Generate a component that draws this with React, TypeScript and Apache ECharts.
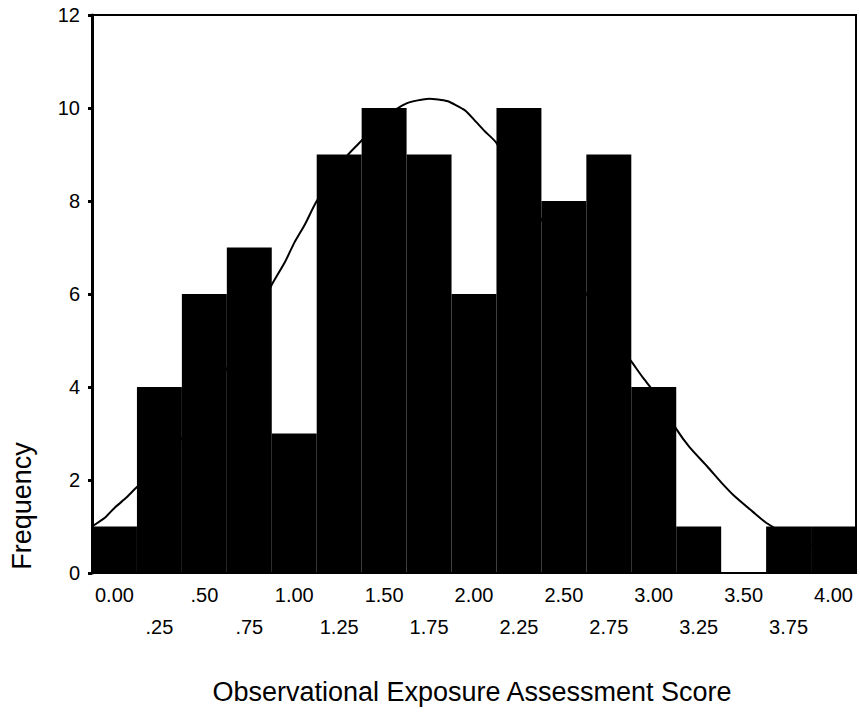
import React, { useEffect, useRef } from "react";
import * as echarts from "echarts";

const binLabels = [
  "0.00", ".25", ".50", ".75", "1.00", "1.25", "1.50", "1.75", "2.00",
  "2.25", "2.50", "2.75", "3.00", "3.25", "3.50", "3.75", "4.00",
];
const frequencies = [1, 4, 6, 7, 3, 9, 10, 9, 6, 10, 8, 9, 4, 1, 0, 1, 1];

// Fitted normal curve (score, frequency)
const curveX = [
  -0.125, -0.05, 0.0, 0.06, 0.125, 0.25, 0.375, 0.5, 0.625, 0.75, 0.875, 0.95,
  1.0, 1.06, 1.125, 1.25, 1.3, 1.375, 1.5, 1.625, 1.75, 1.85, 1.95, 2.0, 2.06,
  2.125, 2.25, 2.375, 2.5, 2.625, 2.75, 2.875, 2.94, 3.0, 3.125, 3.2, 3.3,
  3.375, 3.45, 3.55, 3.625, 3.75, 3.875, 4.0, 4.125,
];
const curveY = [
  1.0, 1.2, 1.4, 1.6, 1.85, 2.3, 2.9, 3.6, 4.4, 5.3, 6.2, 6.7,
  7.1, 7.5, 8.0, 8.7, 9.0, 9.3, 9.8, 10.1, 10.2, 10.15, 9.95, 9.75, 9.5,
  9.25, 8.4, 7.6, 6.8, 6.0, 5.2, 4.55, 4.2, 3.9, 3.1, 2.7, 2.28,
  1.95, 1.65, 1.32, 1.08, 0.8, 0.6, 0.45, 0.32,
];

const xTitle = "Observational Exposure Assessment Score";
const yTitle = "Frequency";
const FONT = "'Liberation Sans', Arial, Helvetica, sans-serif";

export default function App() {
  const ref = useRef<HTMLDivElement>(null);
  useEffect(() => {
    document.body.style.margin = "0";
    const chart = echarts.init(ref.current!, null, { renderer: "svg" });
    chart.setOption({
      animation: false,
      backgroundColor: "#ffffff",
      textStyle: { fontFamily: FONT, color: "#000" },
      grid: {
        left: 92,
        right: 4,
        top: 15,
        bottom: 142,
        show: true,
        borderColor: "#000",
        borderWidth: 2,
      },
      xAxis: [
        {
          type: "category",
          data: binLabels,
          boundaryGap: true,
          axisLine: { onZero: false, lineStyle: { color: "#000", width: 2 } },
          axisTick: {
            alignWithLabel: true,
            length: 4,
            lineStyle: { color: "#000", width: 3 },
          },
          axisLabel: {
            interval: 0,
            color: "#000",
            fontSize: 20,
            fontFamily: FONT,
            lineHeight: 32,
            margin: 6,
            formatter: (v: string, i: number) => (i % 2 ? "\n" + v : v),
          },
        },
        {
          type: "value",
          min: -0.125,
          max: 4.125,
          show: false,
        },
      ],
      yAxis: {
        type: "value",
        min: 0,
        max: 12,
        interval: 2,
        splitLine: { show: false },
        axisLine: { show: true, onZero: false, lineStyle: { color: "#000", width: 3 } },
        axisTick: { show: true, length: 4, lineStyle: { color: "#000", width: 3 } },
        axisLabel: { color: "#000", fontSize: 20, fontFamily: FONT, margin: 12 },
      },
      graphic: [
        {
          type: "text",
          x: 22,
          y: 506,
          rotation: Math.PI / 2,
          style: {
            text: yTitle,
            fontSize: 27,
            fontFamily: FONT,
            fill: "#000",
            textAlign: "center",
            textVerticalAlign: "middle",
          },
        },
        {
          type: "text",
          x: 472,
          y: 692,
          style: {
            text: xTitle,
            fontSize: 27,
            fontFamily: FONT,
            fill: "#000",
            textAlign: "center",
            textVerticalAlign: "middle",
          },
        },
      ],
      series: [
        {
          type: "line",
          xAxisIndex: 1,
          data: curveX.map((x, i) => [x, curveY[i]]),
          showSymbol: false,
          smooth: 0.2,
          z: 1,
          lineStyle: { color: "#000", width: 2 },
        },
        {
          type: "bar",
          xAxisIndex: 0,
          data: frequencies,
          barCategoryGap: "0%",
          z: 3,
          itemStyle: { color: "#000", borderColor: "#000", borderWidth: 2 },
        },
      ],
    });
    return () => chart.dispose();
  }, []);
  return <div ref={ref} style={{ width: 860, height: 715 }} />;
}
